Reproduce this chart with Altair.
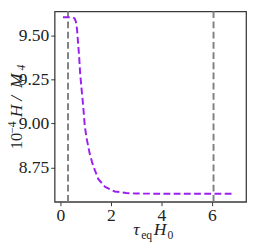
import altair as alt
import pandas as pd

# curve values
tau = [0.10, 0.30, 0.50, 0.56, 0.60, 0.63, 0.66, 0.69, 0.74, 0.78, 0.84, 0.90, 0.96,
       1.03, 1.10, 1.15, 1.25, 1.35, 1.50, 1.77, 2.15, 2.6, 3.0, 4.0, 5.0, 6.0, 6.9]
hval = [9.605, 9.605, 9.604, 9.598, 9.585, 9.565, 9.53, 9.472, 9.38, 9.283, 9.19, 9.10, 8.99,
        8.92, 8.87, 8.833, 8.78, 8.739, 8.683, 8.639, 8.613, 8.604, 8.601, 8.60, 8.60, 8.60, 8.60]
vlines = [0.3, 6.06]
xticks = [0, 2, 4, 6]
yticks = [8.75, 9.00, 9.25, 9.50]

df = pd.DataFrame({"tau": tau, "h": hval})
dv = pd.DataFrame({"v": vlines})

FONT = "Liberation Serif"
xs = alt.Scale(domain=[-0.23, 7.35], nice=False, zero=False)
ys = alt.Scale(domain=[8.554, 9.639], nice=False, zero=False)

xax = alt.Axis(values=xticks, title=None, grid=False, domain=False, tickSize=4,
               tickColor="#333", labelFont=FONT, labelFontSize=18, labelColor="#222",
               labelPadding=1)
yax = alt.Axis(values=yticks, format=".2f", title=None, grid=False, domain=False, tickSize=4,
               tickColor="#333", labelFont=FONT, labelFontSize=18, labelColor="#222",
               labelPadding=2)

line = alt.Chart(df).mark_line(color="#9b20ee", strokeWidth=2, strokeDash=[7, 3.5]).encode(
    x=alt.X("tau:Q", scale=xs, axis=xax),
    y=alt.Y("h:Q", scale=ys, axis=yax),
)

rules = alt.Chart(dv).mark_rule(color="#808080", strokeWidth=2, strokeDash=[7, 3.5]).encode(
    x=alt.X("v:Q", scale=xs)
)

def txt(s, x, y, size, italic=False, angle=0):
    return alt.Chart(pd.DataFrame({"t": [s]})).mark_text(
        font=FONT, fontSize=size, fontStyle="italic" if italic else "normal",
        align="left", baseline="alphabetic", angle=angle, color="#222"
    ).encode(text="t:N", x=alt.value(x), y=alt.value(y))

# x-axis title: tau_eq H_0
xt = [
    txt("τ", 81, 230, 18, italic=True),
    txt("eq", 89, 234, 12),
    txt("H", 102, 230, 18, italic=True),
    txt("0", 116, 234, 12),
]
# y-axis title: 10^{-4} H/M_4
yt = [
    txt("10", -34, 142, 17, angle=270),
    txt("−4", -40, 126, 12, angle=270),
    txt("H", -34, 109, 18, italic=True, angle=270),
    txt("/", -34, 92, 18, italic=True, angle=270),
    txt("M", -34, 79, 18, italic=True, angle=270),
    txt("4", -30, 61, 12, italic=True, angle=270),
]

chart = alt.layer(rules, line, *xt, *yt).properties(
    width=197, height=196,
    padding={"left": 48, "top": 0, "right": 4, "bottom": 40},
    autosize=alt.AutoSizeParams(type="none"),
).configure_view(stroke="#3a3a3a", strokeWidth=1.3)

chart.save("out.html", embed_options={"renderer": "svg", "actions": False})
